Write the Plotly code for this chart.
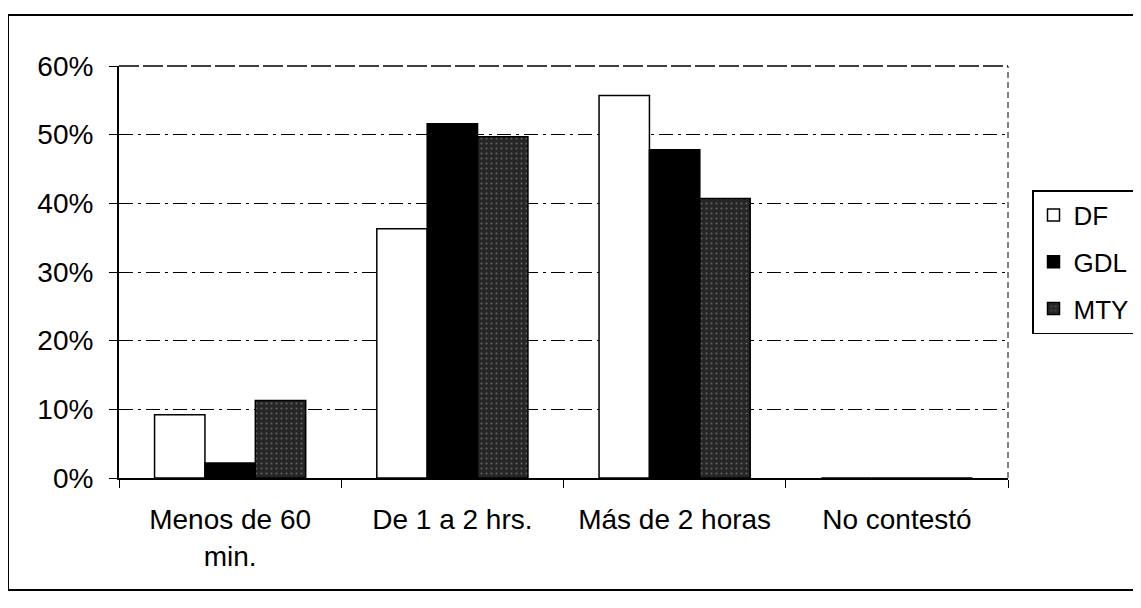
import plotly.graph_objects as go

categories = ["Menos de 60<br>min.", "De 1 a 2 hrs.", "Más de 2 horas", "No contestó"]
df_vals = [0.092, 0.363, 0.557, 0.0]
gdl_vals = [0.022, 0.516, 0.478, 0.0]
mty_vals = [0.113, 0.497, 0.407, 0.0]
y_ticks = [0, 0.1, 0.2, 0.3, 0.4, 0.5, 0.6]
y_labels = ["0%", "10%", "20%", "30%", "40%", "50%", "60%"]

font = "Liberation Sans, Arial, sans-serif"

fig = go.Figure()
fig.add_trace(go.Bar(name="DF", x=categories, y=df_vals, legendgroup="a",
                     marker=dict(color="white", line=dict(color="black", width=1.5))))
fig.add_trace(go.Bar(name="GDL", x=categories, y=gdl_vals, legendgroup="b",
                     marker=dict(color="black", line=dict(color="black", width=1.5))))
fig.add_trace(go.Bar(name="MTY", x=categories, y=mty_vals, legendgroup="c",
                     marker=dict(color="#262626", line=dict(color="black", width=1.5),
                                 pattern=dict(shape=".", fgcolor="#9a9a9a", size=5,
                                              solidity=0.15, fillmode="overlay"))))

# figure is offset by the page's 8px body margin
W, H = 1125, 592
L, T, B = 111, 58, 122
pw = 889
R = W - L - pw
ph = H - T - B

fig.update_layout(
    width=W, height=H,
    margin=dict(l=L, r=R, t=T, b=B, autoexpand=False),
    paper_bgcolor="white", plot_bgcolor="white",
    barmode="group", bargap=0.32, bargroupgap=0,
    font=dict(family=font, size=28, color="black"),
    showlegend=True,
    legend=dict(xref="container", yref="container",
                x=1024 / W, y=1 - 182 / H, xanchor="left", yanchor="top",
                bordercolor="black", borderwidth=1.5, bgcolor="white",
                font=dict(size=26, family=font), itemwidth=30,
                tracegroupgap=10),
    xaxis=dict(type="category", showline=True, linecolor="black", linewidth=1.5,
               ticks="outside", tickson="boundaries", ticklen=8, tickcolor="black",
               ticklabelstandoff=16,
               showgrid=False, tickfont=dict(size=28, family=font)),
    yaxis=dict(range=[0, 0.6], tickvals=y_ticks, ticktext=y_labels,
               showline=True, linecolor="black", linewidth=2,
               ticks="outside", ticklen=8, tickcolor="black",
               ticklabelstandoff=10,
               showgrid=True, gridcolor="black", gridwidth=1,
               griddash="14px,5px,3px,5px",
               zeroline=False, tickfont=dict(size=28, family=font)),
    shapes=[
        dict(type="line", xref="paper", yref="paper", x0=1, x1=1, y0=0, y1=1,
             line=dict(color="black", width=1, dash="6px,4px")),
        dict(type="line", xref="paper", yref="paper", x0=0, x1=1, y0=1, y1=1,
             line=dict(color="black", width=1.5, dash="20px,4px")),
        dict(type="rect", xref="paper", yref="paper",
             x0=-L / pw, x1=(W + 20 - L) / pw, y0=-(112) / ph, y1=1 + 51 / ph,
             line=dict(color="black", width=2)),
    ],
)

fig.write_html("out.html")
